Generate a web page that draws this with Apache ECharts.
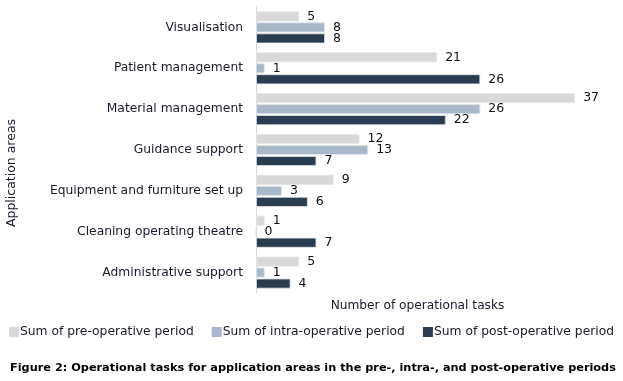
<!DOCTYPE html>
<html>
<head>
<meta charset="utf-8">
<script src="https://cdn.jsdelivr.net/npm/echarts@6/dist/echarts.min.js"></script>
<style>
  html, body { margin: 0; padding: 0; background: #fff; }
  #chart { width: 623px; height: 381px; }
</style>
</head>
<body>
<div id="chart"></div>
<script>
const categories = ['Visualisation', 'Patient management', 'Material management', 'Guidance support',
  'Equipment and furniture set up', 'Cleaning operating theatre', 'Administrative support']
const preOp = [5, 21, 37, 12, 9, 1, 5]
const intraOp = [8, 1, 26, 13, 3, 0, 1]
const postOp = [8, 26, 22, 7, 6, 7, 4]
const seriesNames = ['Sum of pre-operative period', 'Sum of intra-operative period', 'Sum of post-operative period']
const colors = ['#d9d9d9', '#a9b9cb', '#2a3c50']

const font = 'DejaVu Sans'
const chart = echarts.init(document.getElementById('chart'))

const labelOption = {
  show: true,
  position: 'right',
  distance: 8,
  fontFamily: font,
  fontSize: 12.5,
  color: '#111'
}

// thin light outline like the original bars
const barStyle = c => ({ color: c, borderColor: '#e6e6e6', borderWidth: 0.8 })

const option = {
  animation: false,
  textStyle: { fontFamily: font },
  legend: {
    data: seriesNames,
    left: 4,
    top: 321,
    itemWidth: 10,
    itemHeight: 10,
    itemGap: 18,
    icon: 'rect',
    itemStyle: { borderWidth: 0 },
    textStyle: { fontFamily: font, fontSize: 12.3, color: '#1a1a2a', padding: [0, 0, 0, -4] }
  },
  grid: {
    left: 256,
    right: 22,
    top: 7,
    bottom: 88
  },
  xAxis: {
    type: 'value',
    min: 0,
    max: 40,
    show: true,
    axisLine: { show: false },
    axisTick: { show: false },
    axisLabel: { show: false },
    splitLine: { show: false },
    name: 'Number of operational tasks',
    nameLocation: 'middle',
    nameGap: 7,
    nameTextStyle: { fontFamily: font, fontSize: 12.2, color: '#1a1a2a', padding: [0, 22, 0, 0] }
  },
  yAxis: {
    type: 'category',
    inverse: true,
    data: categories,
    axisLine: { show: true, lineStyle: { color: '#d9d9d9', width: 1 } },
    axisTick: { show: false },
    axisLabel: { fontFamily: font, fontSize: 12.3, color: '#1a1a2a', margin: 13 }
  },
  graphic: [
    {
      type: 'text',
      x: 5,
      y: 173,
      rotation: Math.PI / 2,
      style: {
        text: 'Application areas',
        fontFamily: font,
        fontSize: 12.5,
        fill: '#1a1a2a',
        align: 'center',
        verticalAlign: 'top'
      }
    },
    {
      type: 'text',
      left: 10,
      top: 363,
      style: {
        text: 'Figure 2: Operational tasks for application areas in the pre-, intra-, and post-operative periods',
        fontFamily: font,
        fontSize: 11.3,
        fontWeight: 'bold',
        fill: '#000'
      }
    }
  ],
  series: [
    { name: seriesNames[0], type: 'bar', data: preOp, barWidth: 10, barGap: '10%', itemStyle: barStyle(colors[0]), label: labelOption },
    { name: seriesNames[1], type: 'bar', data: intraOp, barWidth: 10, barGap: '10%', itemStyle: barStyle(colors[1]), label: labelOption },
    { name: seriesNames[2], type: 'bar', data: postOp, barWidth: 10, barGap: '10%', itemStyle: barStyle(colors[2]), label: labelOption }
  ]
}
chart.setOption(option)
</script>
</body>
</html>
